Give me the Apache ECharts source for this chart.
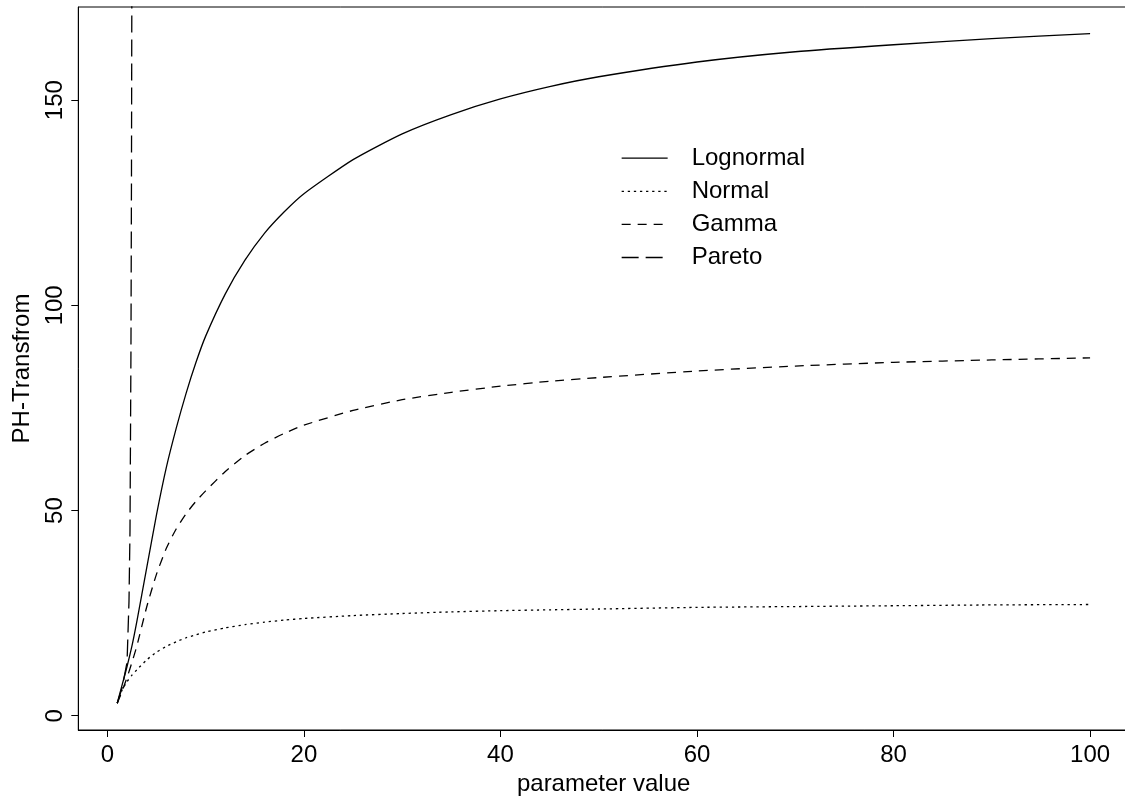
<!DOCTYPE html>
<html>
<head>
<meta charset="utf-8">
<title>PH-Transfrom</title>
<script src="https://cdn.jsdelivr.net/npm/echarts@6/dist/echarts.min.js"></script>
<style>
  html, body { margin: 0; padding: 0; background: #fff; }
  #chart { width: 1125px; height: 801px; }
</style>
</head>
<body>
<div id="chart"></div>
<script>
// Parameter grid shared by the Lognormal, Normal and Gamma curves
const paramValues = [1, 1.5, 2, 2.5, 3, 4, 5, 6, 7, 8, 9, 10, 12, 14, 16, 18, 20,
                     25, 30, 35, 40, 45, 50, 60, 70, 80, 90, 100];

const lognormalValues = [3.04, 7.5, 12, 17, 23, 36, 49, 60.5, 70, 78.5, 86, 92.5, 102.8, 111.0, 117.6, 122.8, 127.2,
                         135.5, 141.8, 146.5, 150.3, 153.3, 155.7, 159.3, 161.8, 163.5, 165.0, 166.2];

const normalValues = [3.04, 6.3, 8.3, 9.9, 11.2, 13.6, 15.5, 16.9, 18.0, 19.0, 19.7, 20.4, 21.4, 22.2, 22.8, 23.3, 23.7,
                      24.4, 24.9, 25.3, 25.6, 25.8, 26.0, 26.4, 26.6, 26.8, 27.0, 27.1];

const gammaValues = [3.04, 6.0, 9.3, 13.0, 17.0, 26.5, 34.5, 40.8, 45.5, 49.2, 52.2, 54.8, 59.5, 63.4, 66.4, 68.8, 70.8,
                     74.4, 77.0, 78.8, 80.3, 81.5, 82.4, 84.0, 85.2, 86.1, 86.7, 87.2];

// Pareto blows up quickly, so it has its own short parameter grid
const paretoParams = [1, 1.5, 2, 2.2, 2.3, 2.4, 2.45, 2.5];
const paretoValues = [3.04, 6.8, 13, 28, 45, 90, 130, 190];

const xTicks = [0, 20, 40, 60, 80, 100];
const yTicks = [0, 50, 100, 150];

const seriesNames = ['Lognormal', 'Normal', 'Gamma', 'Pareto'];

const pairs = (xs, ys) => xs.map((x, i) => [x, ys[i]]);

const FONT = '"Liberation Sans", Arial, Helvetica, sans-serif';
const INK = '#000';

const chart = echarts.init(document.getElementById('chart'), null, { renderer: 'canvas' });

function curve(name, data, dash, smooth) {
  return {
    name: name,
    type: 'line',
    data: data,
    symbol: 'none',
    showSymbol: false,
    smooth: smooth,
    clip: true,
    animation: false,
    silent: true,
    lineStyle: { color: INK, width: 1.3, type: dash },
    itemStyle: { color: INK }
  };
}

chart.setOption({
  backgroundColor: '#fff',
  animation: false,
  textStyle: { fontFamily: FONT },
  grid: {
    left: 78.3,
    top: 7,
    width: 1050.7,
    bottom: 71,
    outerBoundsMode: 'none',
    containLabel: false,
    show: true,
    borderColor: INK,
    borderWidth: 1,
    backgroundColor: 'transparent'
  },
  legend: {
    data: seriesNames,
    orient: 'vertical',
    left: 621,
    top: 146.2,
    padding: 0,
    itemWidth: 46,
    itemHeight: 14,
    itemGap: 9.1,
    selectedMode: false,
    lineStyle: { width: 1.3 },
    itemStyle: { color: 'transparent', borderColor: 'transparent', borderWidth: 0, opacity: 0 },
    textStyle: {
      fontFamily: FONT,
      fontSize: 24,
      lineHeight: 24,
      color: INK,
      padding: [0, 0, 0, 19]
    }
  },
  xAxis: {
    type: 'value',
    min: -2.96,
    max: 103.96,
    name: 'parameter value',
    nameLocation: 'middle',
    nameGap: 32,
    nameTextStyle: { fontFamily: FONT, fontSize: 24, color: INK },
    axisLine: { show: true, onZero: false, lineStyle: { color: INK, width: 1 } },
    axisTick: { show: true, length: 7, customValues: xTicks, lineStyle: { color: INK, width: 1 } },
    axisLabel: { customValues: xTicks, fontFamily: FONT, fontSize: 24, color: INK, margin: 13 },
    splitLine: { show: false }
  },
  yAxis: {
    type: 'value',
    min: -3.48,
    max: 172.7,
    name: 'PH-Transfrom',
    nameLocation: 'middle',
    nameGap: 44,
    nameRotate: 90,
    nameTextStyle: { fontFamily: FONT, fontSize: 24, color: INK },
    axisLine: { show: true, onZero: false, lineStyle: { color: INK, width: 1 } },
    axisTick: { show: true, length: 7, customValues: yTicks, lineStyle: { color: INK, width: 1 } },
    axisLabel: { customValues: yTicks, rotate: 90, fontFamily: FONT, fontSize: 24, color: INK, margin: 11 },
    splitLine: { show: false }
  },
  series: [
    curve('Lognormal', pairs(paramValues, lognormalValues), 'solid', 0.2),
    curve('Normal', pairs(paramValues, normalValues), [2.3, 3.8], 0.2),
    curve('Gamma', pairs(paramValues, gammaValues), [9, 7], 0.2),
    curve('Pareto', pairs(paretoParams, paretoValues), [17, 7], false)
  ]
});
</script>
</body>
</html>
